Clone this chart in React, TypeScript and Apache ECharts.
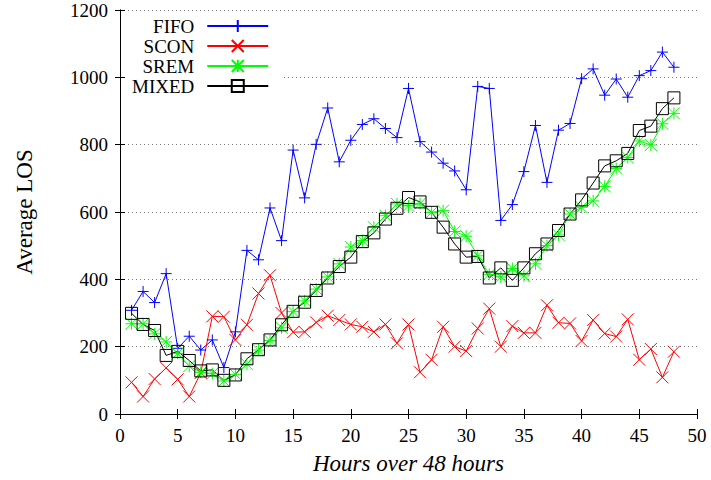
import React, { useEffect, useRef } from 'react';
import * as echarts from 'echarts';

const hours = [1, 2, 3, 4, 5, 6, 7, 8, 9, 10, 11, 12, 13, 14, 15, 16, 17, 18, 19, 20, 21, 22, 23, 24,
  25, 26, 27, 28, 29, 30, 31, 32, 33, 34, 35, 36, 37, 38, 39, 40, 41, 42, 43, 44, 45, 46, 47, 48];

const fifo = [308, 364, 331, 417, 195, 231, 190, 220, 138, 244, 486, 458, 612, 515, 784, 642, 801, 909, 749, 813,
  860, 877, 848, 821, 967, 809, 778, 745, 722, 666, 973, 967, 575, 622, 720, 857, 688, 843, 863, 996,
  1025, 947, 995, 941, 1005, 1020, 1075, 1030];

const scon = [94, 52, 104, 137, 103, 52, 122, 290, 289, 220, 265, 358, 412, 300, 243, 244, 272, 292, 279, 266,
  259, 244, 266, 210, 266, 124, 161, 259, 200, 187, 254, 313, 200, 261, 241, 241, 323, 271, 269, 217,
  279, 239, 230, 281, 161, 193, 109, 185];

const srem = [268, 268, 238, 214, 180, 142, 124, 120, 98, 118, 148, 190, 218, 256, 304, 336, 371, 407, 446, 496,
  515, 555, 589, 624, 618, 625, 599, 604, 542, 528, 470, 415, 407, 432, 410, 446, 500, 532, 594, 614,
  633, 676, 729, 762, 811, 799, 862, 893];

const mixed = [299, 266, 248, 174, 186, 159, 128, 131, 100, 116, 164, 191, 220, 265, 305, 332, 367, 404, 438, 466,
  512, 538, 579, 611, 643, 630, 599, 555, 505, 466, 468, 404, 434, 397, 434, 476, 505, 545, 594, 636,
  686, 737, 752, 774, 842, 855, 907, 939];

const seriesNames = ['FIFO', 'SCON', 'SREM', 'MIXED'];
const xTicks = { min: 0, max: 50, interval: 5 };
const yTicks = { min: 0, max: 1200, interval: 200 };

const FONT = "'Liberation Serif', 'DejaVu Serif', serif";

const pairs = (ys: number[]) => ys.map((y, i) => [hours[i], y]);

export default function App() {
  const ref = useRef<HTMLDivElement>(null);
  useEffect(() => {
    if (!ref.current) return;
    const chart = echarts.init(ref.current, undefined, { renderer: 'svg' });

    const mk = (name: string, ys: number[], color: string, symbol: string, size: number) => ({
      name,
      type: 'line',
      data: pairs(ys),
      xAxisIndex: 0,
      yAxisIndex: 0,
      symbol,
      symbolSize: size,
      showAllSymbol: true,
      lineStyle: { color, width: 1 },
      itemStyle: { color: 'rgba(0,0,0,0)', borderColor: color, borderWidth: 1 },
      emphasis: { disabled: true },
      z: 3,
    });

    const axisLine = { show: true, lineStyle: { color: '#000', width: 1 } };
    const tick = { show: true, inside: true, length: 5, lineStyle: { color: '#000', width: 1 } };
    const plain = (v: number) => String(v);

    chart.setOption({
      animation: false,
      backgroundColor: '#fff',
      textStyle: { fontFamily: FONT },
      grid: { left: 120, right: 14, top: 10, bottom: 64 },
      legend: {
        orient: 'vertical',
        align: 'right',
        left: 127,
        top: 11,
        itemWidth: 61,
        itemHeight: 15,
        itemGap: 0,
        padding: [5, 13, 5, 5],
        backgroundColor: '#fff',
        selectedMode: false,
        z: 4,
        textStyle: { fontFamily: FONT, fontSize: 19, color: '#000', padding: [0, 8, 0, 0], lineHeight: 20 },
        data: seriesNames,
      },
      xAxis: [
        {
          type: 'value', position: 'bottom', ...xTicks, z: 0,
          axisLine, axisTick: tick,
          axisLabel: { fontFamily: FONT, fontSize: 19, color: '#000', margin: 12, formatter: plain },
          splitLine: { show: false },
          name: 'Hours over 48 hours', nameLocation: 'middle', nameGap: 38,
          nameTextStyle: { fontFamily: FONT, fontSize: 23, fontStyle: 'italic', color: '#000' },
        },
        {
          type: 'value', position: 'top', ...xTicks, z: 5,
          axisLine, axisTick: tick, axisLabel: { show: false }, splitLine: { show: false },
        },
      ],
      yAxis: [
        {
          type: 'value', position: 'left', ...yTicks, z: 0,
          axisLine, axisTick: tick,
          axisLabel: { fontFamily: FONT, fontSize: 19, color: '#000', margin: 12, formatter: plain },
          splitLine: { show: true, lineStyle: { color: '#777', width: 1, type: [1, 3] } },
          name: 'Average LOS', nameLocation: 'middle', nameGap: 84,
          nameTextStyle: { fontFamily: FONT, fontSize: 23, color: '#000' },
        },
        {
          type: 'value', position: 'right', ...yTicks, z: 5,
          axisLine, axisTick: tick, axisLabel: { show: false }, splitLine: { show: false },
        },
      ],
      series: [
        mk('FIFO', fifo, '#0000ff', 'path://M0,5H10M5,0V10', 11),
        mk('SCON', scon, '#ff0000', 'path://M0,0L10,10M10,0L0,10', 12),
        mk('SREM', srem, '#00ff00', 'path://M0,5H10M5,0V10M0,0L10,10M10,0L0,10', 12),
        mk('MIXED', mixed, '#000000', 'rect', 12),
      ],
    });
    return () => chart.dispose();
  }, []);
  return <div ref={ref} style={{ position: 'fixed', left: 0, top: 0, width: 711, height: 480 }} />;
}
